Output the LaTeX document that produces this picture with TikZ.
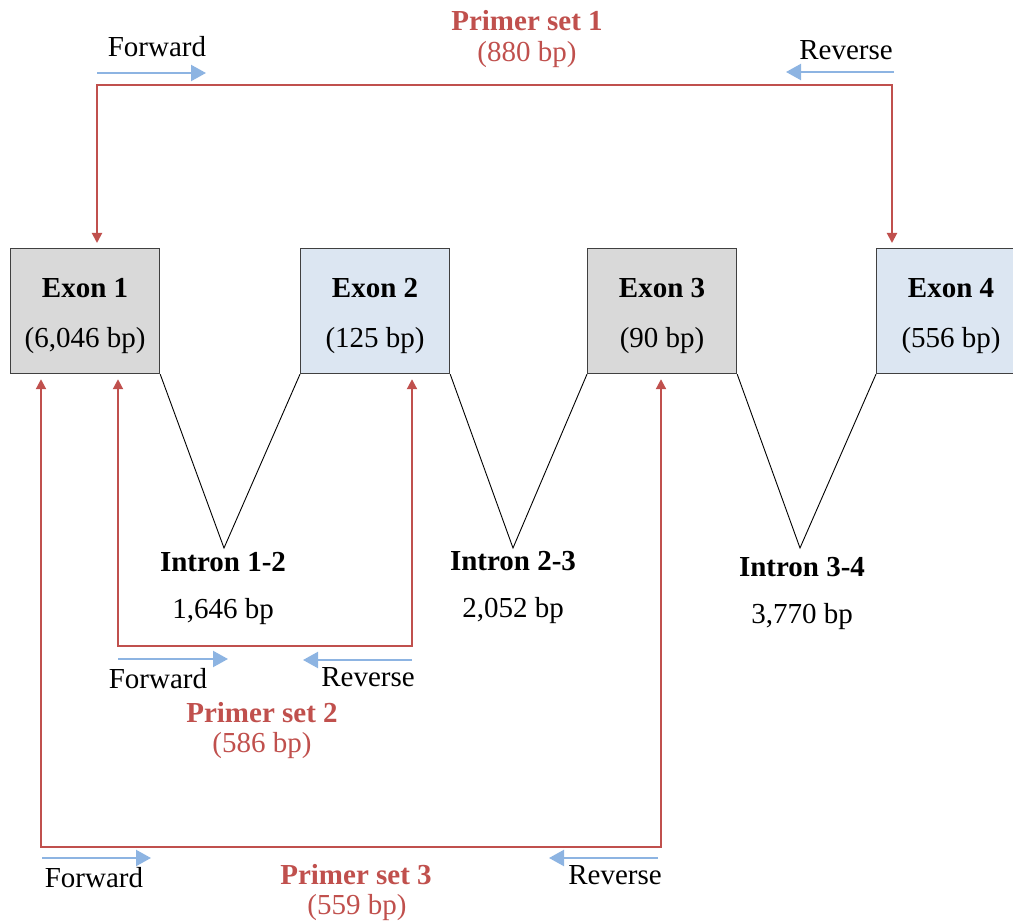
\documentclass[tikz,border=0pt]{standalone}
\usepackage{fontspec}
\setmainfont{Liberation Serif}
\usetikzlibrary{arrows.meta,calc}
\definecolor{primerred}{HTML}{C0504D}
\definecolor{primerblue}{HTML}{8DB4E2}
\definecolor{exongray}{HTML}{D9D9D9}
\definecolor{exonblue}{HTML}{DCE6F2}
\definecolor{exonedge}{HTML}{404040}
\begin{document}
\begin{tikzpicture}[x=1pt,y=-1pt,
  font=\fontsize{29}{34}\selectfont,
  exonbox/.style={draw=exonedge, line width=1.2pt, minimum width=149pt,
    minimum height=125pt, inner sep=0pt, anchor=north west},
  txt/.style={inner sep=0pt, anchor=center},
  boldtxt/.style={txt, font=\fontsize{29}{34}\selectfont\bfseries},
  redtitle/.style={boldtxt, text=primerred},
  redsize/.style={txt, text=primerred},
  intronline/.style={black, line width=0.9pt},
  primerpath/.style={primerred, line width=2pt,
    {Triangle[length=10pt,width=10pt]}-{Triangle[length=10pt,width=10pt]},
    shorten <=5pt, shorten >=5pt},
  primerdir/.style={primerblue, line width=2.2pt,
    -{Triangle[length=15pt,width=16pt]}}]
\clip (0,0) rectangle (1013,923);

% exons
\node[exonbox, fill=exongray] (e1) at (10,248) {};
\node[exonbox, fill=exonblue] (e2) at (300,248) {};
\node[exonbox, fill=exongray] (e3) at (587,248) {};
\node[exonbox, fill=exonblue] (e4) at (876,248) {};
\foreach \e/\n/\s in {e1/1/{(6,046 bp)}, e2/2/{(125 bp)}, e3/3/{(90 bp)}, e4/4/{(556 bp)}}{
  \node[boldtxt] (\e t) at ($(\e.north)+(0,40)$) {Exon \n};
  \node[txt] (\e s) at ($(\e.north)+(0,93)$) {\s};
}

% introns
\coordinate (v12) at (224,548);
\coordinate (v23) at (513,548);
\coordinate (v34) at (800,548);
\draw[intronline] (e1.south east) -- (v12) -- (e2.south west);
\draw[intronline] (e2.south east) -- (v23) -- (e3.south west);
\draw[intronline] (e3.south east) -- (v34) -- (e4.south west);
\node[boldtxt] (i12) at (223,562) {Intron 1-2};
\node[txt] (i12s) at (223,612) {1,646 bp};
\node[boldtxt] (i23) at (513,561) {Intron 2-3};
\node[txt] (i23s) at (513,611) {2,052 bp};
\node[boldtxt] (i34) at (802,567) {Intron 3-4};
\node[txt] (i34s) at (802,617) {3,770 bp};

% primer set 1
\coordinate (p1l) at (97,85);
\coordinate (p1r) at (892,85);
\draw[primerpath] (e4.north -| p1r) -- (p1r) -- (p1l) -- (e1.north -| p1l);
\coordinate (f1a) at (97,73);  \coordinate (f1b) at (206,73);
\coordinate (r1a) at (894,72); \coordinate (r1b) at (786,72);
\draw[primerdir] (f1a) -- (f1b);
\draw[primerdir] (r1a) -- (r1b);
\node[txt] (f1) at (157,47) {Forward};
\node[txt] (r1) at (846,50) {Reverse};
\node[redtitle] (ps1) at (527,21) {Primer set 1};
\node[redsize] (ps1s) at (527,55) {(880 bp)};

% primer set 2
\coordinate (p2l) at (118,646);
\coordinate (p2r) at (412,646);
\draw[primerpath] (e2.south -| p2r) -- (p2r) -- (p2l) -- (e1.south -| p2l);
\coordinate (f2a) at (118,659); \coordinate (f2b) at (228,659);
\coordinate (r2a) at (412,660); \coordinate (r2b) at (303,660);
\draw[primerdir] (f2a) -- (f2b);
\draw[primerdir] (r2a) -- (r2b);
\node[txt] (f2) at (158,679) {Forward};
\node[txt] (r2) at (368,677) {Reverse};
\node[redtitle] (ps2) at (262,713) {Primer set 2};
\node[redsize] (ps2s) at (262,746) {(586 bp)};

% primer set 3
\coordinate (p3l) at (41,847);
\coordinate (p3r) at (661,847);
\draw[primerpath] (e3.south -| p3r) -- (p3r) -- (p3l) -- (e1.south -| p3l);
\coordinate (f3a) at (42,858);  \coordinate (f3b) at (151,858);
\coordinate (r3a) at (658,858); \coordinate (r3b) at (549,858);
\draw[primerdir] (f3a) -- (f3b);
\draw[primerdir] (r3a) -- (r3b);
\node[txt] (f3) at (94,878) {Forward};
\node[txt] (r3) at (615,875) {Reverse};
\node[redtitle] (ps3) at (356,875) {Primer set 3};
\node[redsize] (ps3s) at (357,908) {(559 bp)};
\end{tikzpicture}
\end{document}
